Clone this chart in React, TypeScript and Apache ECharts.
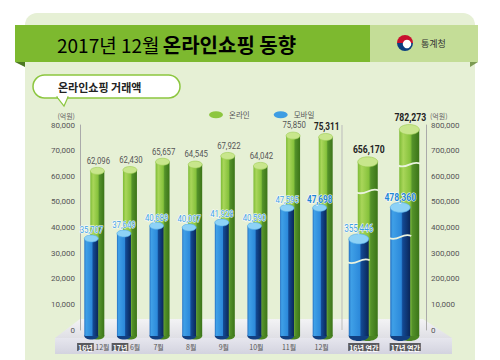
import React, { useEffect, useRef } from 'react';
import * as echarts from 'echarts';

const monthCategories = ['16년 12월', '17년 6월', '7월', '8월', '9월', '10월', '11월', '12월'];
const yearCategories = ['16년 연간', '17년 연간'];
const onlineMonthly = [62096, 62430, 65657, 64545, 67922, 64042, 75850, 75311];
const mobileMonthly = [35707, 37649, 40689, 40007, 41928, 40590, 47595, 47698];
const onlineYearly = [656170, 782273];
const mobileYearly = [355446, 478360];
const leftTickLabels = ['0', '10,000', '20,000', '30,000', '40,000', '50,000', '60,000', '70,000', '80,000'];
const rightTickLabels = ['0', '10,000', '200,000', '300,000', '400,000', '500,000', '600,000', '700,000', '800,000'];
const unitLabel = '(억원)';
const titleMain = '2017년 12월';
const titleBold = '온라인쇼핑 동향';
const subtitle = '온라인쇼핑 거래액';
const agency = '통계청';

const NUM_FONT = "Roboto, 'Liberation Sans', sans-serif";
const KR_FONT = "'Noto Sans CJK KR', 'Noto Sans', sans-serif";

const fmt = (v: number) => v.toLocaleString('en-US');

const blueBody = () =>
  new echarts.graphic.LinearGradient(0, 0, 1, 0, [
    { offset: 0, color: '#2470C2' },
    { offset: 0.12, color: '#3FA0E7' },
    { offset: 0.55, color: '#2C89DA' },
    { offset: 0.62, color: '#134A94' },
    { offset: 1, color: '#0A2658' },
  ]);
const greenBody = () =>
  new echarts.graphic.LinearGradient(0, 0, 1, 0, [
    { offset: 0, color: '#7DBB35' },
    { offset: 0.2, color: '#A9D65A' },
    { offset: 0.55, color: '#86C23C' },
    { offset: 0.65, color: '#54922A' },
    { offset: 1, color: '#3B7418' },
  ]);

type CylOpts = {
  kind: 'online' | 'mobile';
  width: number;
  offset: number;
  ry: number;
  wave: number;
  boldIdx: number[];
  fontSize: number;
  boldSize: number;
};

function makeRender(o: CylOpts) {
  return (params: any, api: any) => {
    const idx = api.value(0);
    const val = api.value(1);
    const base = api.coord([idx, 0]);
    const top = api.coord([idx, val]);
    const cx = base[0] + o.offset;
    const w = o.width;
    const x0 = cx - w / 2;
    const bottomY = base[1] + 6;
    const topY = top[1];
    const isBlue = o.kind === 'mobile';
    const bold = o.boldIdx.indexOf(idx) >= 0;
    const children: any[] = [
      {
        type: 'ellipse',
        shape: { cx, cy: bottomY, rx: w / 2, ry: o.ry },
        style: { fill: isBlue ? '#123F80' : '#4A8422' },
      },
      {
        type: 'rect',
        shape: { x: x0, y: topY, width: w, height: bottomY - topY },
        style: { fill: isBlue ? blueBody() : greenBody() },
      },
    ];
    if (o.wave > 0) {
      const wy = bottomY - (bottomY - topY) * o.wave;
      children.push({
        type: 'bezierCurve',
        shape: {
          x1: x0 - 1, y1: wy + 1,
          x2: x0 + w + 1, y2: wy - 1,
          cpx1: x0 + w * 0.4, cpy1: wy + 5,
          cpx2: x0 + w * 0.6, cpy2: wy - 5,
        },
        style: { stroke: '#EAF3DE', lineWidth: 1.8, fill: null },
      });
    }
    children.push({
      type: 'ellipse',
      shape: { cx, cy: topY, rx: w / 2, ry: o.ry },
      style: {
        fill: isBlue ? '#8DD2F6' : '#C8E68C',
        stroke: isBlue ? '#4FA9E6' : '#9CCB52',
        lineWidth: 0.6,
      },
    });
    children.push({
      type: 'text',
      x: cx + (isBlue ? 0 : 1),
      y: topY - o.ry - (isBlue ? 0 : 2),
      scaleX: 0.82,
      style: {
        text: fmt(val),
        x: 0,
        y: 0,
        align: 'center',
        verticalAlign: 'bottom',
        fontFamily: NUM_FONT,
        fontSize: bold ? o.boldSize : o.fontSize,
        fontWeight: bold ? 'bold' : 'normal',
        fill: isBlue ? (bold ? '#1F86D6' : '#3E9FE4') : bold ? '#222222' : '#555555',
        stroke: isBlue ? '#FFFFFF' : null,
        lineWidth: isBlue ? 1 : 0,
      },
    });
    return { type: 'group', children };
  };
}

const xLabelFormatter = (value: string) => {
  if (value.indexOf('연간') >= 0) return `{box|${value}}`;
  const m = value.match(/^(\d+년) (.+)$/);
  if (m) return `{box|${m[1]}}{plain| ${m[2]}}`;
  return `{plain|${value}}`;
};

const xRich = {
  box: { backgroundColor: '#5A5A5E', color: '#FFFFFF', padding: [1, 1, 0, 1], fontSize: 7, fontFamily: KR_FONT, fontWeight: 'bold' },
  plain: { color: '#555555', fontSize: 7, fontFamily: KR_FONT },
};

const yLabelStyle = {
  margin: 5,
  color: '#555555',
  fontSize: 8,
  fontFamily: NUM_FONT,
};

export default function App() {
  const ref = useRef<HTMLDivElement>(null);
  useEffect(() => {
    if (!ref.current) return;
    const chart = echarts.init(ref.current, undefined, { renderer: 'svg' });
    const option: any = {
      animation: false,
      backgroundColor: '#FFFFFF',
      grid: [
        { left: 77, top: 125, width: 261, height: 205 },
        { left: 343, top: 125, width: 83, height: 205 },
      ],
      legend: {
        left: 204,
        top: 106,
        itemWidth: 16,
        itemHeight: 7,
        itemGap: 24,
        textStyle: { color: '#555555', fontSize: 7.5, fontFamily: KR_FONT },
        data: [
          {
            name: '온라인',
            icon: 'path://M0,5 A10,5 0 1,0 20,5 A10,5 0 1,0 0,5 Z',
            itemStyle: { color: '#8DC63F' },
          },
          {
            name: '모바일',
            icon: 'path://M0,5 A10,5 0 1,0 20,5 A10,5 0 1,0 0,5 Z',
            itemStyle: { color: '#3E9DE3' },
          },
        ],
      },
      xAxis: [
        {
          gridIndex: 0,
          type: 'category',
          data: monthCategories,
          axisLine: { show: false },
          axisTick: { show: false },
          axisLabel: { interval: 0, margin: 13, formatter: xLabelFormatter, rich: xRich },
        },
        {
          gridIndex: 1,
          type: 'category',
          data: yearCategories,
          axisLine: { show: false },
          axisTick: { show: false },
          axisLabel: { interval: 0, margin: 13, formatter: xLabelFormatter, rich: xRich },
        },
      ],
      yAxis: [
        {
          gridIndex: 0,
          type: 'value',
          position: 'left',
          offset: -3,
          min: 0,
          max: 80000,
          interval: 10000,
          name: unitLabel,
          nameLocation: 'end',
          nameGap: 6,
          nameTextStyle: { color: '#666666', fontSize: 7, fontFamily: KR_FONT, align: 'right', padding: [0, 5, 0, 0] },
          axisLine: { show: true, lineStyle: { color: '#AAAAAA', width: 1 } },
          axisTick: { show: false },
          splitLine: { show: false },
          axisLabel: {
            ...yLabelStyle,
            formatter: (v: number) => leftTickLabels[Math.round(v / 10000)],
          },
        },
        {
          gridIndex: 1,
          type: 'value',
          position: 'right',
          min: 0,
          max: 800000,
          interval: 100000,
          name: unitLabel,
          nameLocation: 'end',
          nameGap: 6,
          nameTextStyle: { color: '#666666', fontSize: 7, fontFamily: KR_FONT, align: 'left', padding: [0, 0, 0, 4] },
          axisLine: { show: true, lineStyle: { color: '#AAAAAA', width: 1 } },
          axisTick: { show: false },
          splitLine: { show: false },
          axisLabel: {
            ...yLabelStyle,
            formatter: (v: number) => rightTickLabels[Math.round(v / 100000)],
          },
        },
      ],
      graphic: [
        { type: 'rect', z: -10, shape: { x: 25, y: 13, width: 450, height: 360, r: [12, 12, 0, 0] }, style: { fill: '#E6F0D5' } },
        {
          type: 'polygon', z: -5,
          shape: { points: [[80, 319], [423, 319], [452, 338], [55, 338]] },
          style: {
            fill: new echarts.graphic.LinearGradient(0, 0, 0, 1, [
              { offset: 0, color: '#F3F3F5' },
              { offset: 1, color: '#DFDFE5' },
            ]),
          },
        },
        {
          type: 'rect', z: -5,
          shape: { x: 55, y: 338, width: 397, height: 16 },
          style: {
            fill: new echarts.graphic.LinearGradient(0, 0, 0, 1, [
              { offset: 0, color: '#E6E6EE' },
              { offset: 1, color: '#D3D3DF' },
            ]),
          },
        },
        { type: 'line', z: -4, shape: { x1: 342, y1: 125, x2: 342, y2: 330 }, style: { stroke: '#BBBBBB', lineWidth: 1 } },
        { type: 'rect', z: 5, shape: { x: 15, y: 25, width: 355, height: 37 }, style: { fill: '#7DB92F' } },
        { type: 'rect', z: 5, shape: { x: 370, y: 25, width: 108, height: 37 }, style: { fill: '#C4DD97' } },
        { type: 'polygon', z: 5, shape: { points: [[15, 62], [25, 62], [25, 67]] }, style: { fill: '#4D7823' } },
        { type: 'polygon', z: 5, shape: { points: [[470, 62], [478, 62], [470, 67]] }, style: { fill: '#7C9A52' } },
        {
          type: 'text', z: 6, x: 57, y: 44,
          style: {
            text: `{a|${titleMain}} {b|${titleBold}}`,
            verticalAlign: 'middle',
            rich: {
              a: { fontSize: 19, color: '#FFFFFF', fontFamily: KR_FONT, fontWeight: 'normal' },
              b: { fontSize: 20, color: '#FFFFFF', fontFamily: KR_FONT, fontWeight: 'bold' },
            },
          },
        },
        { type: 'sector', z: 6, shape: { cx: 405, cy: 43, r: 8, r0: 0, startAngle: Math.PI, endAngle: Math.PI * 2 }, style: { fill: '#C8102E' } },
        { type: 'sector', z: 6, shape: { cx: 405, cy: 43, r: 8, r0: 0, startAngle: 0, endAngle: Math.PI }, style: { fill: '#0B3E80' } },
        { type: 'circle', z: 7, shape: { cx: 407, cy: 44, r: 4.2 }, style: { fill: '#FFFFFF' } },
        {
          type: 'text', z: 6, x: 421, y: 43,
          style: { text: agency, fill: '#333333', fontSize: 9, fontFamily: KR_FONT, verticalAlign: 'middle' },
        },
        {
          type: 'rect', z: 5,
          shape: { x: 33, y: 75, width: 147, height: 23, r: 11.5 },
          style: { fill: '#FFFFFF', stroke: '#8CC63F', lineWidth: 1.5 },
        },
        {
          type: 'polygon', z: 6,
          shape: { points: [[57, 97], [68, 97], [64, 106]] },
          style: { fill: '#FFFFFF', stroke: '#8CC63F', lineWidth: 1.2 },
        },
        { type: 'line', z: 7, shape: { x1: 58, y1: 97, x2: 67, y2: 97 }, style: { stroke: '#FFFFFF', lineWidth: 2 } },
        {
          type: 'text', z: 8, x: 58, y: 87,
          style: { text: subtitle, fill: '#222222', fontSize: 11, fontWeight: 'bold', fontFamily: KR_FONT, verticalAlign: 'middle' },
        },
      ],
      series: [
        {
          name: '온라인',
          type: 'custom',
          xAxisIndex: 0,
          yAxisIndex: 0,
          z: 2,
          clip: false,
          itemStyle: { color: '#8DC63F' },
          encode: { x: 0, y: 1 },
          data: onlineMonthly.map((v, i) => [i, v]),
          renderItem: makeRender({ kind: 'online', width: 14, offset: 4, ry: 3.5, wave: 0, boldIdx: [7], fontSize: 9.5, boldSize: 10 }),
        },
        {
          name: '모바일',
          type: 'custom',
          xAxisIndex: 0,
          yAxisIndex: 0,
          z: 3,
          clip: false,
          itemStyle: { color: '#3E9DE3' },
          encode: { x: 0, y: 1 },
          data: mobileMonthly.map((v, i) => [i, v]),
          renderItem: makeRender({ kind: 'mobile', width: 14, offset: -2, ry: 3.5, wave: 0, boldIdx: [7], fontSize: 9.5, boldSize: 10 }),
        },
        {
          name: '온라인',
          type: 'custom',
          xAxisIndex: 1,
          yAxisIndex: 1,
          z: 2,
          clip: false,
          itemStyle: { color: '#8DC63F' },
          encode: { x: 0, y: 1 },
          data: onlineYearly.map((v, i) => [i, v]),
          renderItem: makeRender({ kind: 'online', width: 20, offset: 4, ry: 5, wave: 0.83, boldIdx: [0, 1], fontSize: 10.5, boldSize: 10.5 }),
        },
        {
          name: '모바일',
          type: 'custom',
          xAxisIndex: 1,
          yAxisIndex: 1,
          z: 3,
          clip: false,
          itemStyle: { color: '#3E9DE3' },
          encode: { x: 0, y: 1 },
          data: mobileYearly.map((v, i) => [i, v]),
          renderItem: makeRender({ kind: 'mobile', width: 20, offset: -5, ry: 5, wave: 0.77, boldIdx: [1], fontSize: 10, boldSize: 10.5 }),
        },
      ],
    };
    chart.setOption(option);
    return () => chart.dispose();
  }, []);
  return (
    <div
      ref={ref}
      style={{ position: 'absolute', left: 0, top: 0, width: 500, height: 360 }}
    />
  );
}
